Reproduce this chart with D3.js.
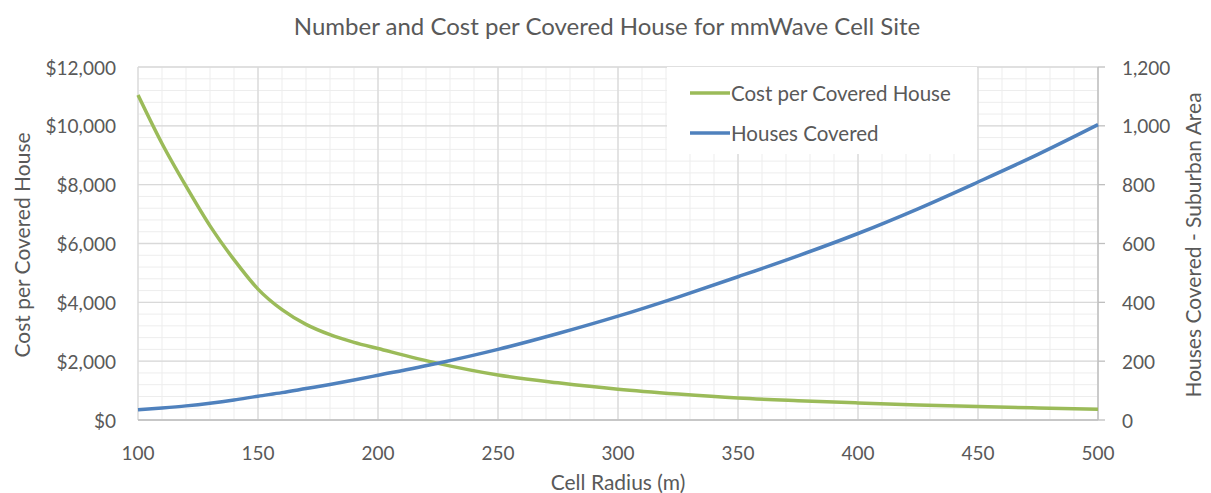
<!DOCTYPE html>
<html>
<head>
<meta charset="utf-8">
<script src="https://cdn.jsdelivr.net/npm/d3@7"></script>
<style>
body { margin: 0; background: #fff; }
text { font-family: Lato, "Open Sans", sans-serif; fill: #595959; }
</style>
</head>
<body>
<div id="chart"></div>
<script>
// values
var radius = [100, 110, 120, 130, 140, 150, 160, 170, 180, 190, 200, 225, 250, 275, 300, 325, 350, 375, 400, 425, 450, 475, 500];
var costPerHouse = [11050, 9400, 7950, 6600, 5450, 4450, 3750, 3250, 2900, 2640, 2430, 1925, 1530, 1265, 1045, 880, 745, 655, 580, 512, 455, 408, 365];
var housesCovered = [35, 41, 48, 57, 68, 81, 93, 107, 121, 136, 152, 193, 240, 294, 353, 418, 487, 558, 634, 718, 809, 903, 1004];
var xTicks = [100, 150, 200, 250, 300, 350, 400, 450, 500];
var leftTicks = [0, 2000, 4000, 6000, 8000, 10000, 12000];
var rightTicks = [0, 200, 400, 600, 800, 1000, 1200];
var seriesNames = ["Cost per Covered House", "Houses Covered"];
var colors = ["#9BBB59", "#4F81BD"];

var width = 1211, height = 493;
var plotL = 138, plotR = 1098, plotT = 67, plotB = 420;

var svg = d3.select("#chart").append("svg")
    .attr("width", width)
    .attr("height", height);

var x = d3.scaleLinear().domain([100, 500]).range([plotL, plotR]);
var yL = d3.scaleLinear().domain([0, 12000]).range([plotB, plotT]);
var yR = d3.scaleLinear().domain([0, 1200]).range([plotB, plotT]);

// minor grid
var g = svg.append("g");
g.selectAll(".vminor").data(d3.range(100, 501, 10))
    .enter().append("line")
    .attr("x1", d => x(d)).attr("x2", d => x(d))
    .attr("y1", plotT).attr("y2", plotB)
    .style("stroke", "#EDEDED").style("stroke-width", 1);
g.selectAll(".hminor").data(d3.range(0, 12001, 400))
    .enter().append("line")
    .attr("x1", plotL).attr("x2", plotR)
    .attr("y1", d => yL(d)).attr("y2", d => yL(d))
    .style("stroke", "#EDEDED").style("stroke-width", 1);
// major grid
g.selectAll(".vmajor").data(xTicks)
    .enter().append("line")
    .attr("x1", d => x(d)).attr("x2", d => x(d))
    .attr("y1", plotT).attr("y2", plotB)
    .style("stroke", "#D9D9D9").style("stroke-width", 1.3);
g.selectAll(".hmajor").data(leftTicks)
    .enter().append("line")
    .attr("x1", plotL).attr("x2", plotR)
    .attr("y1", d => yL(d)).attr("y2", d => yL(d))
    .style("stroke", "#D9D9D9").style("stroke-width", 1.3);

// axis lines
svg.append("line").attr("x1", plotL).attr("x2", plotR).attr("y1", plotB).attr("y2", plotB)
    .style("stroke", "#BFBFBF").style("stroke-width", 1.5);
svg.append("line").attr("x1", plotR).attr("x2", plotR).attr("y1", plotT).attr("y2", plotB)
    .style("stroke", "#BFBFBF").style("stroke-width", 1.3);
svg.selectAll(".rtick").data(rightTicks)
    .enter().append("line")
    .attr("x1", plotR).attr("x2", plotR + 7)
    .attr("y1", d => yR(d)).attr("y2", d => yR(d))
    .style("stroke", "#BFBFBF").style("stroke-width", 1.3);

// legend box (drawn under the lines)
svg.append("rect").attr("x", 667).attr("y", 67).attr("width", 310).attr("height", 87)
    .style("fill", "#fff");

// series
var line1 = d3.line().x((d, i) => x(radius[i])).y(d => yL(d)).curve(d3.curveMonotoneX);
var line2 = d3.line().x((d, i) => x(radius[i])).y(d => yR(d)).curve(d3.curveMonotoneX);
svg.append("path").attr("d", line1(costPerHouse))
    .style("fill", "none").style("stroke", colors[0]).style("stroke-width", 3.5);
svg.append("path").attr("d", line2(housesCovered))
    .style("fill", "none").style("stroke", colors[1]).style("stroke-width", 3.5);

// tick labels
var fmtL = d => "$" + d3.format(",")(d);
svg.selectAll(".xl").data(xTicks).enter().append("text")
    .attr("x", d => x(d)).attr("y", 452)
    .attr("text-anchor", "middle").attr("dominant-baseline", "central")
    .style("font-size", "19px").text(d => d);
svg.selectAll(".yl").data(leftTicks).enter().append("text")
    .attr("x", 116).attr("y", d => yL(d))
    .attr("text-anchor", "end").attr("dominant-baseline", "central")
    .style("font-size", "19px").text(fmtL);
svg.selectAll(".yr").data(rightTicks).enter().append("text")
    .attr("x", 1122).attr("y", d => yR(d))
    .attr("text-anchor", "start").attr("dominant-baseline", "central")
    .style("font-size", "19px").text(d => d3.format(",")(d));

// titles
svg.append("text").attr("x", 607).attr("y", 25)
    .attr("text-anchor", "middle").attr("dominant-baseline", "central")
    .style("font-size", "24px").text("Number and Cost per Covered House for mmWave Cell Site");
svg.append("text").attr("x", 618).attr("y", 481)
    .attr("text-anchor", "middle").attr("dominant-baseline", "central")
    .style("font-size", "21px").text("Cell Radius (m)");
svg.append("text").attr("transform", "translate(21,245) rotate(-90)")
    .attr("text-anchor", "middle").attr("dominant-baseline", "central")
    .style("font-size", "21px").text("Cost per Covered House");
svg.append("text").attr("transform", "translate(1192,245) rotate(-90)")
    .attr("text-anchor", "middle").attr("dominant-baseline", "central")
    .style("font-size", "21px").text("Houses Covered - Suburban Area");

// legend
var leg = svg.selectAll(".leg").data(seriesNames).enter().append("g")
    .attr("transform", (d, i) => "translate(690," + (93 + i * 40) + ")");
leg.append("line").attr("x1", 0).attr("x2", 40).attr("y1", 0).attr("y2", 0)
    .style("stroke", (d, i) => colors[i]).style("stroke-width", 3.5);
leg.append("text").attr("x", 41).attr("y", 0).attr("dominant-baseline", "central")
    .style("font-size", "20.5px").text(d => d);
</script>
</body>
</html>
